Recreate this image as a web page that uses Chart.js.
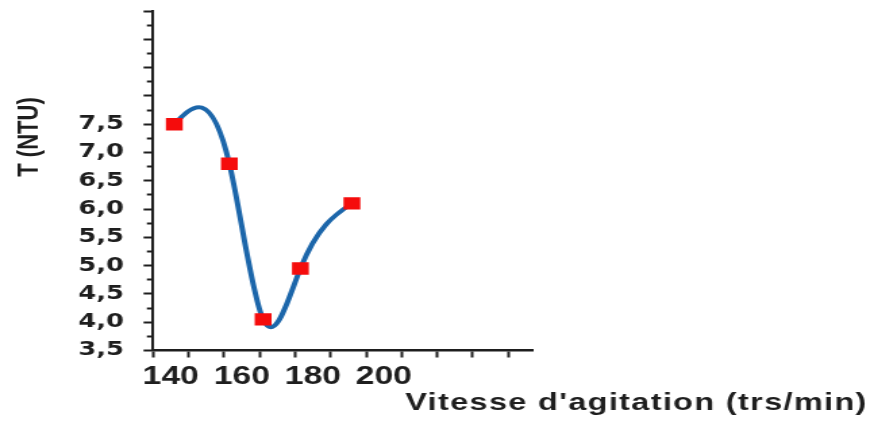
<!DOCTYPE html>
<html lang="fr">
<head>
<meta charset="utf-8">
<title>Turbidité en fonction de la vitesse d'agitation</title>
<script src="https://cdn.jsdelivr.net/npm/chart.js@4/dist/chart.umd.min.js"></script>
<style>
  html, body { margin: 0; padding: 0; background: #ffffff; overflow: hidden; }
  /* the figure is drawn narrow and widened horizontally, like the printed original */
  #wrap { width: 647px; height: 428px; transform: scaleX(1.35085); transform-origin: 0 0; }
  canvas { display: block; }
</style>
</head>
<body>
<div id="wrap"><canvas id="chart" width="647" height="428"></canvas></div>
<script>
// Stirring speed (trs/min) and measured turbidity T (NTU)
const speeds = [141, 156.5, 166, 176.5, 191];
const turbidity = [7.5, 6.8, 4.05, 4.95, 6.1];

// Axis marks and labels
const xTickMarks = [135, 145, 155, 165, 175, 185, 195, 205, 215, 225, 235];
const xLabelValues = [140, 160, 180, 200];
const xTickLabels = ['140', '160', '180', '200'];
const yLabelValues = [3.5, 4.0, 4.5, 5.0, 5.5, 6.0, 6.5, 7.0, 7.5];
const yTickLabels = ['3,5', '4,0', '4,5', '5,0', '5,5', '6,0', '6,5', '7,0', '7,5'];

const xTitle = "Vitesse d'agitation (trs/min)";
const yTitle = 'T (NTU)';

const INK = '#1e1e1e';
const LINE_BLUE = '#1c66aa';
const MARK_RED = '#f50c0c';

const isHalfStep = v => Math.abs(v * 2 - Math.round(v * 2)) < 1e-9;

// Natural cubic spline slopes through the measured points
function splineSlopes(xs, ys) {
  const n = xs.length;
  const h = [], d = [];
  for (let i = 0; i < n - 1; i++) {
    h[i] = xs[i + 1] - xs[i];
    d[i] = (ys[i + 1] - ys[i]) / h[i];
  }
  const M = new Array(n).fill(0);
  if (n > 2) {
    const m = n - 2;
    const a = [], b = [], c = [], r = [];
    for (let k = 0; k < m; k++) {
      const i = k + 1;
      a[k] = h[i - 1];
      b[k] = 2 * (h[i - 1] + h[i]);
      c[k] = h[i];
      r[k] = 6 * (d[i] - d[i - 1]);
    }
    for (let k = 1; k < m; k++) {
      const w = a[k] / b[k - 1];
      b[k] -= w * c[k - 1];
      r[k] -= w * r[k - 1];
    }
    const sol = new Array(m);
    sol[m - 1] = r[m - 1] / b[m - 1];
    for (let k = m - 2; k >= 0; k--) sol[k] = (r[k] - c[k] * sol[k + 1]) / b[k];
    for (let k = 0; k < m; k++) M[k + 1] = sol[k];
  }
  const s = [];
  for (let i = 0; i < n - 1; i++) s[i] = d[i] - h[i] * (2 * M[i] + M[i + 1]) / 6;
  s[n - 1] = d[n - 2] + h[n - 2] * (M[n - 2] + 2 * M[n - 1]) / 6;
  return s;
}

// Smooth curve through the dataset, drawn beneath the square markers
const splineCurve = {
  id: 'splineCurve',
  beforeDatasetsDraw(chart) {
    const xs = chart.scales.x, ys = chart.scales.y;
    const slopes = splineSlopes(speeds, turbidity);
    const ctx = chart.ctx;
    ctx.save();
    ctx.beginPath();
    ctx.moveTo(xs.getPixelForValue(speeds[0]), ys.getPixelForValue(turbidity[0]));
    for (let i = 0; i < speeds.length - 1; i++) {
      const h = speeds[i + 1] - speeds[i];
      ctx.bezierCurveTo(
        xs.getPixelForValue(speeds[i] + h / 3), ys.getPixelForValue(turbidity[i] + slopes[i] * h / 3),
        xs.getPixelForValue(speeds[i + 1] - h / 3), ys.getPixelForValue(turbidity[i + 1] - slopes[i + 1] * h / 3),
        xs.getPixelForValue(speeds[i + 1]), ys.getPixelForValue(turbidity[i + 1])
      );
    }
    ctx.lineWidth = 4;
    ctx.strokeStyle = LINE_BLUE;
    ctx.lineJoin = 'round';
    ctx.lineCap = 'round';
    ctx.stroke();
    ctx.restore();
  }
};

// Axis titles
const axisTitles = {
  id: 'axisTitles',
  afterDraw(chart) {
    const ctx = chart.ctx;
    ctx.save();
    ctx.fillStyle = INK;
    ctx.font = 'bold 24px "Liberation Sans", Arial, sans-serif';
    if ('letterSpacing' in ctx) ctx.letterSpacing = '1px';
    ctx.textAlign = 'left';
    ctx.textBaseline = 'alphabetic';
    ctx.fillText(xTitle, 300, 410);
    if ('letterSpacing' in ctx) ctx.letterSpacing = '0px';
    ctx.translate(28, 137);
    ctx.rotate(-Math.PI / 2);
    ctx.font = 'bold 22px "Liberation Sans", Arial, sans-serif';
    ctx.textAlign = 'center';
    ctx.fillText(yTitle, 0, 0);
    ctx.restore();
  }
};

new Chart(document.getElementById('chart'), {
  type: 'line',
  data: {
    datasets: [{
      data: speeds.map((v, i) => ({ x: v, y: turbidity[i] })),
      showLine: false,
      pointStyle: 'rect',
      pointRadius: 8.8,
      pointHoverRadius: 8.8,
      pointBackgroundColor: MARK_RED,
      pointBorderWidth: 0,
      pointHoverBorderWidth: 0
    }]
  },
  options: {
    responsive: false,
    devicePixelRatio: 1,
    animation: false,
    events: [],
    layout: { padding: { left: 0, top: 11, right: 252.4, bottom: 0 } },
    plugins: { legend: { display: false }, tooltip: { enabled: false }, title: { display: false } },
    scales: {
      x: {
        type: 'linear',
        position: 'bottom',
        weight: 1,
        min: 135,
        max: 242,
        afterBuildTicks: s => { s.ticks = xTickMarks.map(v => ({ value: v })); },
        afterFit: s => { s.height = 6; s.paddingLeft = 0; s.paddingRight = 0; },
        ticks: { display: false, autoSkip: false },
        grid: { display: true, drawOnChartArea: false, drawTicks: true, tickLength: 7, tickWidth: 2, tickColor: INK },
        border: { display: true, color: INK, width: 2.5 }
      },
      xl: {
        type: 'linear',
        axis: 'x',
        position: 'bottom',
        weight: 2,
        min: 135,
        max: 242,
        afterBuildTicks: s => { s.ticks = xLabelValues.map(v => ({ value: v })); },
        afterFit: s => { s.height = 71.5; s.paddingLeft = 0; s.paddingRight = 0; },
        ticks: {
          autoSkip: false,
          maxRotation: 0,
          padding: 6,
          color: INK,
          font: { family: '"Liberation Sans", Arial, sans-serif', size: 25, weight: 'bold' },
          callback: (v, i) => xTickLabels[i]
        },
        grid: { display: false, drawTicks: false },
        border: { display: false }
      },
      y: {
        type: 'linear',
        position: 'left',
        min: 3.5,
        max: 9.5,
        afterFit: s => { s.width = 113.26; s.paddingTop = 0; s.paddingBottom = 0; },
        ticks: {
          stepSize: 0.25,
          maxTicksLimit: 40,
          autoSkip: false,
          padding: 14.5,
          color: INK,
          font: { family: '"DejaVu Sans", Verdana, sans-serif', size: 19, weight: 'bold' },
          callback: v => {
            const k = yLabelValues.findIndex(t => Math.abs(t - v) < 1e-9);
            return k >= 0 ? yTickLabels[k] : '';
          }
        },
        grid: {
          display: true,
          drawOnChartArea: false,
          drawTicks: true,
          tickLength: 7,
          tickWidth: 2,
          tickColor: INK,
          tickBorderDash: c => (c.tick && isHalfStep(c.tick.value)) ? [] : [4, 2.5],
          tickBorderDashOffset: c => (c.tick && isHalfStep(c.tick.value)) ? 0 : 4
        },
        border: { display: true, color: INK, width: 2 }
      }
    }
  },
  plugins: [splineCurve, axisTitles]
});
</script>
</body>
</html>
